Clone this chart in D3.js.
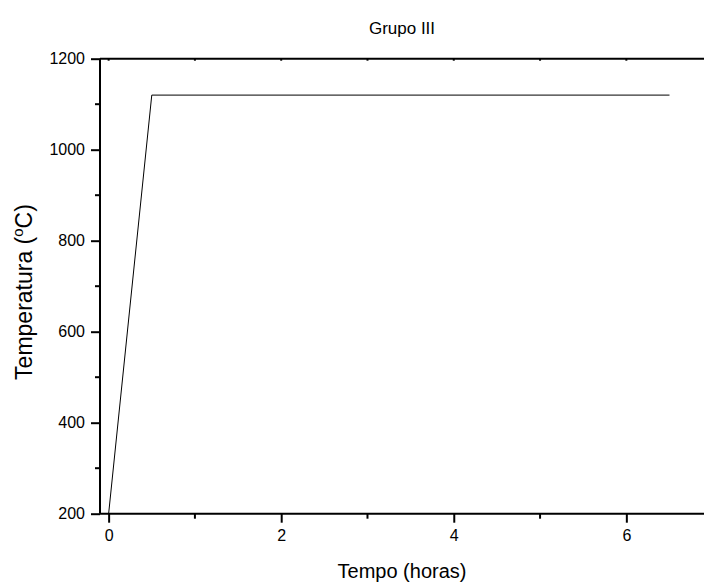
<!DOCTYPE html>
<html>
<head>
<meta charset="utf-8">
<script src="https://cdn.jsdelivr.net/npm/d3@7"></script>
<style>
  body { margin: 0; background: #fff; }
  svg { display: block; font-family: Arial, "Liberation Sans", sans-serif; }
</style>
</head>
<body>
<svg id="chart" width="704" height="585"></svg>
<script>
// Heating profile: time in hours, temperature in °C
const tempo = [0, 0.5, 6.5];
const temperatura = [200, 1120, 1120];

const xMajorTicks = [0, 2, 4, 6];
const xMinorTicks = [1, 3, 5];
const yMajorTicks = [200, 400, 600, 800, 1000, 1200];
const yMinorTicks = [300, 500, 700, 900, 1100];

const titulo = "Grupo III";
const rotuloX = "Tempo (horas)";

const svg = d3.select("#chart");
const plotLeft = 100, plotRight = 704, plotTop = 58.7, plotBottom = 513.7;
const fontFam = "Arial, 'Liberation Sans', sans-serif";

const x = d3.scaleLinear().domain([-0.1, 6.9]).range([plotLeft, plotRight]);
const y = d3.scaleLinear().domain([200, 1200]).range([plotBottom, plotTop]);

// Top frame line
svg.append("line").attr("x1", plotLeft).attr("x2", plotRight).attr("y1", plotTop).attr("y2", plotTop)
  .attr("stroke", "#000").attr("stroke-width", 2);

// Bottom axis
const gx = svg.append("g").attr("transform", `translate(0,${plotBottom})`);
gx.call(d3.axisBottom(x).tickValues(xMajorTicks).tickSize(9).tickPadding(7).tickFormat(d3.format("d")));
gx.attr("font-size", 16).attr("font-family", fontFam);
gx.selectAll(".tick text").attr("fill", "#000");
gx.select(".domain").attr("d", `M${plotLeft},0H${plotRight}`).attr("stroke-width", 2);
gx.selectAll(".tick line").attr("stroke-width", 2);
gx.selectAll(".minor").data(xMinorTicks).enter().append("line")
  .attr("x1", d => x(d)).attr("x2", d => x(d)).attr("y1", 0).attr("y2", 5)
  .attr("stroke", "#000").attr("stroke-width", 2);

// Small ticks on the top frame
svg.append("g").selectAll("line").data(xMajorTicks.concat(xMinorTicks)).enter().append("line")
  .attr("x1", d => x(d)).attr("x2", d => x(d)).attr("y1", plotTop).attr("y2", plotTop + 2)
  .attr("stroke", "#000").attr("stroke-width", 2);

// Left axis
const gy = svg.append("g").attr("transform", `translate(${plotLeft},0)`);
gy.call(d3.axisLeft(y).tickValues(yMajorTicks).tickSize(9).tickPadding(6).tickFormat(d3.format("d")));
gy.attr("font-size", 16).attr("font-family", fontFam);
gy.selectAll(".tick text").attr("fill", "#000");
gy.select(".domain").attr("d", `M0,${plotBottom}V${plotTop}`).attr("stroke-width", 2);
gy.selectAll(".tick line").attr("stroke-width", 2);
gy.selectAll(".minor").data(yMinorTicks).enter().append("line")
  .attr("x1", -5).attr("x2", 0).attr("y1", d => y(d)).attr("y2", d => y(d))
  .attr("stroke", "#000").attr("stroke-width", 2);

// Data line
const pts = tempo.map((t, i) => [t, temperatura[i]]);
svg.append("path").datum(pts)
  .attr("d", d3.line().x(d => x(d[0])).y(d => y(d[1])))
  .attr("fill", "none").attr("stroke", "#000").attr("stroke-width", 1);

// Title and axis labels
svg.append("text").attr("x", (plotLeft + plotRight) / 2).attr("y", 34)
  .attr("text-anchor", "middle").attr("font-size", 17).text(titulo);

svg.append("text").attr("x", (plotLeft + plotRight) / 2).attr("y", 578)
  .attr("text-anchor", "middle").attr("font-size", 20).text(rotuloX);

const yl = svg.append("text")
  .attr("transform", `translate(32,292) rotate(-90)`)
  .attr("text-anchor", "middle").attr("font-size", 23);
yl.append("tspan").text("Temperatura (");
yl.append("tspan").attr("font-size", 15).attr("dy", -9).text("o");
yl.append("tspan").attr("dy", 9).text("C)");
</script>
</body>
</html>
